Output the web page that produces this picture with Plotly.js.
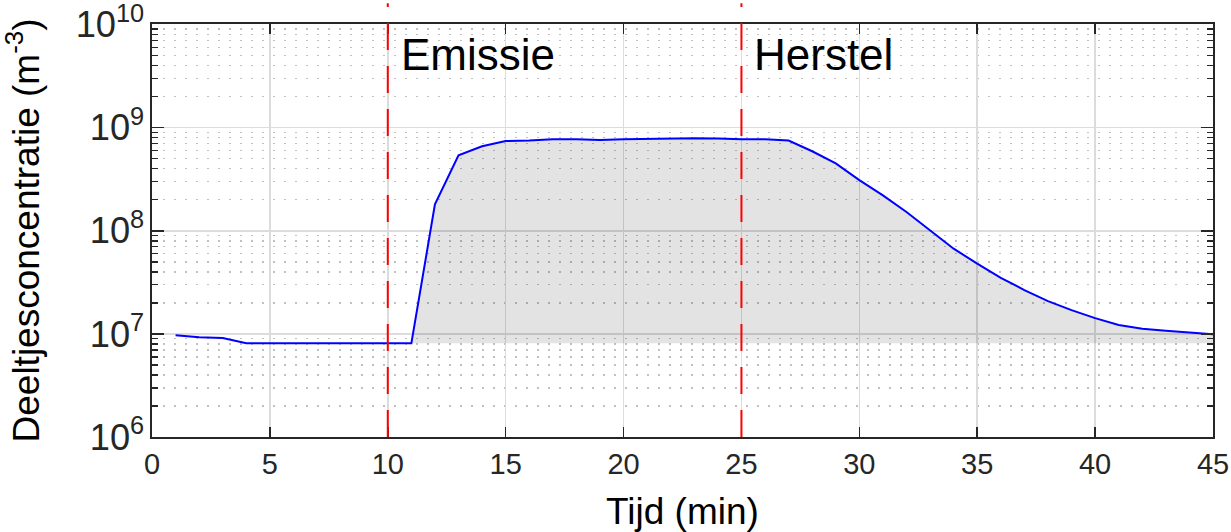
<!DOCTYPE html>
<html>
<head>
<meta charset="utf-8">
<script src="https://cdn.plot.ly/plotly-3.0.1.min.js"></script>
<style>
  html, body { margin: 0; padding: 0; background: #fff; }
  #chart { width: 1231px; height: 532px; }
</style>
</head>
<body>
<div id="chart"></div>
<script>
// ---- data ----
const time = [1, 2, 3, 4, 5, 6, 7, 8, 9, 10, 11, 12, 13, 14, 15, 16, 17, 18, 19, 20,
              21, 22, 23, 24, 25, 26, 27, 28, 29, 30, 31, 32, 33, 34, 35, 36, 37, 38, 39, 40,
              41, 42, 43, 44, 45];
const concentration = [9.7e6, 9.3e6, 9.1e6, 8.1e6, 8.1e6, 8.1e6, 8.1e6, 8.1e6, 8.1e6, 8.1e6,
                       8.1e6, 1.8e8, 5.4e8, 6.6e8, 7.4e8, 7.5e8, 7.7e8, 7.7e8, 7.6e8, 7.7e8,
                       7.8e8, 7.8e8, 7.9e8, 7.85e8, 7.7e8, 7.7e8, 7.5e8, 5.9e8, 4.5e8, 3.1e8,
                       2.2e8, 1.52e8, 1.01e8, 6.7e7, 4.8e7, 3.5e7, 2.66e7, 2.08e7, 1.70e7, 1.42e7,
                       1.22e7, 1.12e7, 1.07e7, 1.03e7, 9.9e6];
const backgroundLevel = 8.1e6;
const fillStartTime = 11;
const eventTimes = [10, 25];
const eventLabels = ['Emissie', 'Herstel'];
const xTicks = [0, 5, 10, 15, 20, 25, 30, 35, 40, 45];

// ---- derived ----
const fi = time.indexOf(fillStartTime);
const fillX = time.slice(fi);
const fillY = concentration.slice(fi);
const baseY = fillX.map(() => backgroundLevel);

const FONT = 'Liberation Sans, Arial, Helvetica, sans-serif';
const AXC = '#262626';

const traces = [
  { x: fillX, y: baseY, type: 'scatter', mode: 'lines', line: { width: 0 }, hoverinfo: 'skip', showlegend: false },
  { x: fillX, y: fillY, type: 'scatter', mode: 'lines', line: { width: 0 }, fill: 'tonexty',
    fillcolor: 'rgba(0,0,0,0.11)', hoverinfo: 'skip', showlegend: false },
  { x: time, y: concentration, type: 'scatter', mode: 'lines', line: { color: '#0000ff', width: 2 }, showlegend: false }
];

const shapes = eventTimes.map(t => ({
  type: 'line', xref: 'x', yref: 'paper', x0: t, x1: t, y0: 0, y1: 1.05,
  line: { color: '#ff0000', width: 2, dash: '27px,16px' }, layer: 'above'
}));

const annotations = eventTimes.map((t, i) => ({
  x: t, xref: 'x', y: 0.925, yref: 'paper', xanchor: 'left', yanchor: 'middle',
  xshift: 11, text: eventLabels[i], showarrow: false,
  font: { family: FONT, size: 44, color: '#000' }
}));

const layout = {
  width: 1231, height: 532,
  margin: { l: 152, r: 18, t: 24, b: 95 },
  paper_bgcolor: '#fff', plot_bgcolor: '#fff',
  font: { family: FONT, color: AXC },
  showlegend: false,
  xaxis: {
    range: [0, 45], tickvals: xTicks, ticktext: xTicks.map(String),
    ticks: 'inside', ticklen: 10, tickwidth: 1.5, tickcolor: AXC,
    showline: true, linecolor: AXC, linewidth: 2, mirror: 'allticks',
    showgrid: true, gridcolor: '#dcdcdc', gridwidth: 1.5, zeroline: false,
    tickfont: { family: FONT, size: 29, color: AXC },
    title: { text: 'Tijd (min)', font: { family: FONT, size: 37, color: '#000' }, standoff: 20 }
  },
  yaxis: {
    type: 'log', range: [6, 10.005], tickmode: 'linear', tick0: 0, dtick: 1, exponentformat: 'power',
    ticklabeloverflow: 'allow',
    ticks: 'inside', ticklen: 12, tickwidth: 1.5, tickcolor: AXC,
    showline: true, linecolor: AXC, linewidth: 2, mirror: 'allticks',
    showgrid: true, gridcolor: '#dcdcdc', gridwidth: 1.5, zeroline: false,
    tickfont: { family: FONT, size: 29, color: AXC },
    minor: { dtick: 'D1', ticks: 'inside', ticklen: 6, tickwidth: 1.5, tickcolor: AXC,
             showgrid: true, gridcolor: '#c0c0c0', gridwidth: 1.5, griddash: '2px,9px' },
    title: { text: 'Deeltjesconcentratie (m<sup>-3</sup>)', font: { family: FONT, size: 37, color: '#000' }, standoff: 27 }
  },
  shapes: shapes,
  annotations: annotations
};

Plotly.newPlot('chart', traces, layout, { displayModeBar: false, staticPlot: true });
</script>
</body>
</html>
